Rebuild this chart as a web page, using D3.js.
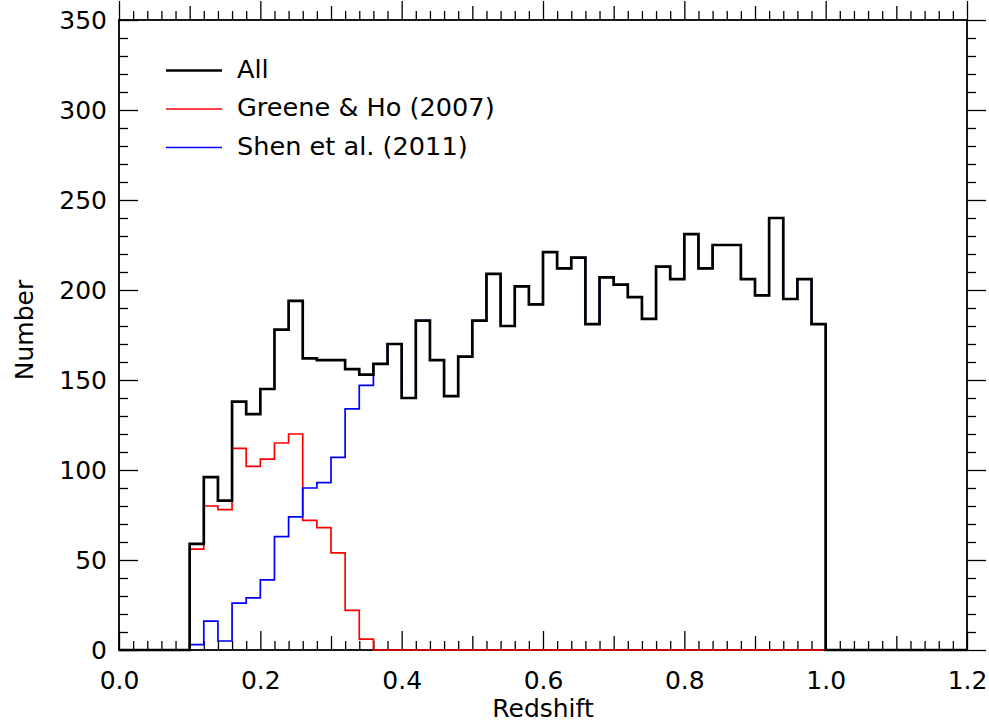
<!DOCTYPE html>
<html>
<head>
<meta charset="utf-8">
<script src="https://cdn.jsdelivr.net/npm/d3@7"></script>
<style>
  html, body { margin: 0; padding: 0; background: #ffffff; }
  svg { display: block; }
  text { font-family: "DejaVu Sans", Verdana, sans-serif; fill: #000; }
</style>
</head>
<body>
<svg id="chart" width="989" height="725"></svg>
<script>
// Redshift bins (lower edges, width 0.02)
const binEdges = [0.10, 0.12, 0.14, 0.16, 0.18, 0.20, 0.22, 0.24, 0.26, 0.28,
                  0.30, 0.32, 0.34, 0.36, 0.38, 0.40, 0.42, 0.44, 0.46, 0.48,
                  0.50, 0.52, 0.54, 0.56, 0.58, 0.60, 0.62, 0.64, 0.66, 0.68,
                  0.70, 0.72, 0.74, 0.76, 0.78, 0.80, 0.82, 0.84, 0.86, 0.88,
                  0.90, 0.92, 0.94, 0.96, 0.98];
const binWidth = 0.02;

// Counts per bin
const countsAll = [59, 96, 83, 138, 131, 145, 178, 194, 162, 161,
                   161, 156, 153, 159, 170, 140, 183, 161, 141, 163,
                   183, 209, 180, 202, 192, 221, 212, 218, 181, 207,
                   203, 196, 184, 213, 206, 231, 212, 225, 225, 206,
                   197, 240, 195, 206, 181];
const countsGreene = [56, 80, 78, 112, 102, 106, 115, 120, 72, 68,
                      54, 22, 6, 0, 0, 0, 0, 0, 0, 0,
                      0, 0, 0, 0, 0, 0, 0, 0, 0, 0,
                      0, 0, 0, 0, 0, 0, 0, 0, 0, 0,
                      0, 0, 0, 0, 0];
const countsShen = [3, 16, 5, 26, 29, 39, 63, 74, 90, 93,
                    107, 134, 147, 159, 170, 140, 183, 161, 141, 163,
                    183, 209, 180, 202, 192, 221, 212, 218, 181, 207,
                    203, 196, 184, 213, 206, 231, 212, 225, 225, 206,
                    197, 240, 195, 206, 181];

const seriesNames = ["All", "Greene & Ho (2007)", "Shen et al. (2011)"];
const seriesColors = ["#000000", "#ff0000", "#0000ff"];

const xMajor = [0.0, 0.2, 0.4, 0.6, 0.8, 1.0, 1.2];
const xMajorLabels = ["0.0", "0.2", "0.4", "0.6", "0.8", "1.0", "1.2"];
const yMajor = [0, 50, 100, 150, 200, 250, 300, 350];
const yMajorLabels = ["0", "50", "100", "150", "200", "250", "300", "350"];

const xDomain = [0, 1.2];
const yDomain = [0, 350];

const svg = d3.select("#chart");
const plotLeft = 119, plotRight = 967, plotTop = 20, plotBottom = 650;

const x = d3.scaleLinear().domain(xDomain).range([plotLeft, plotRight]);
const y = d3.scaleLinear().domain(yDomain).range([plotBottom, plotTop]);

// Frame
svg.append("rect")
  .attr("x", plotLeft).attr("y", plotTop)
  .attr("width", plotRight - plotLeft).attr("height", plotBottom - plotTop)
  .attr("fill", "none").attr("stroke", "#000").attr("stroke-width", 1.8);

// Tick sets
const xMinor = d3.range(0, 61).map(i => i * 0.02).filter(v => Math.abs(v * 10 - Math.round(v * 10)) > 1e-6);
const xMedium = [0.1, 0.3, 0.5, 0.7, 0.9, 1.1];
const yMinor = d3.range(0, 36).map(i => i * 10).filter(v => v % 50 !== 0);

function styleAxis(g) {
  g.select(".domain").remove();
  g.selectAll(".tick line").attr("stroke", "#000").attr("stroke-width", 1.3);
}

// Horizontal axes (ticks point inward)
function xAxisAt(ypos, dir) {
  const mk = dir === "bottom" ? d3.axisBottom : d3.axisTop;
  const sign = dir === "bottom" ? -1 : 1;
  const gMaj = svg.append("g").attr("transform", `translate(0,${ypos})`)
    .call(mk(x).tickValues(xMajor).tickSizeInner(sign * 19).tickSizeOuter(0)
      .tickFormat(dir === "bottom" ? ((d, i) => xMajorLabels[i]) : () => ""));
  styleAxis(gMaj);
  svg.append("g").attr("transform", `translate(0,${ypos})`)
    .call(mk(x).tickValues(xMedium).tickSizeInner(sign * 14).tickSizeOuter(0).tickFormat(() => ""))
    .call(styleAxis);
  svg.append("g").attr("transform", `translate(0,${ypos})`)
    .call(mk(x).tickValues(xMinor).tickSizeInner(sign * 9).tickSizeOuter(0).tickFormat(() => ""))
    .call(styleAxis);
  return gMaj;
}

// Vertical axes (ticks point inward)
function yAxisAt(xpos, dir) {
  const mk = dir === "left" ? d3.axisLeft : d3.axisRight;
  const sign = dir === "left" ? -1 : 1;
  const gMaj = svg.append("g").attr("transform", `translate(${xpos},0)`)
    .call(mk(y).tickValues(yMajor).tickSizeInner(sign * 19).tickSizeOuter(0)
      .tickFormat(dir === "left" ? ((d, i) => yMajorLabels[i]) : () => ""));
  styleAxis(gMaj);
  svg.append("g").attr("transform", `translate(${xpos},0)`)
    .call(mk(y).tickValues(yMinor).tickSizeInner(sign * 9).tickSizeOuter(0).tickFormat(() => ""))
    .call(styleAxis);
  return gMaj;
}

const gx = xAxisAt(plotBottom, "bottom");
gx.selectAll(".tick text")
  .attr("y", 39).attr("dy", null)
  .attr("font-size", 25).attr("font-family", "DejaVu Sans, sans-serif")
  .attr("fill", "#000")
  .attr("text-anchor", "middle");
xAxisAt(plotTop, "top");

const gy = yAxisAt(plotLeft, "left");
gy.selectAll(".tick text")
  .attr("x", -12).attr("dy", "0.34em")
  .attr("font-size", 25).attr("font-family", "DejaVu Sans, sans-serif")
  .attr("fill", "#000")
  .attr("text-anchor", "end");
yAxisAt(plotRight, "right");

// Step outline for a histogram, running along zero outside the binned range
function histPoints(counts) {
  const pts = [[xDomain[0], 0]];
  binEdges.forEach((e, i) => pts.push([e, counts[i]]));
  const last = binEdges[binEdges.length - 1] + binWidth;
  pts.push([last, 0]);
  pts.push([xDomain[1], 0]);
  return pts;
}

const line = d3.line()
  .x(d => x(d[0]))
  .y(d => y(d[1]))
  .curve(d3.curveStepAfter);

const clipId = "plotclip";
svg.append("clipPath").attr("id", clipId)
  .append("rect").attr("x", plotLeft).attr("y", plotTop - 2)
  .attr("width", plotRight - plotLeft).attr("height", plotBottom - plotTop + 4);

// Histograms drawn over the axes: red, then blue, then black on top
const plot = svg.append("g").attr("clip-path", `url(#${clipId})`);

plot.append("path")
  .attr("d", line(histPoints(countsGreene)))
  .attr("fill", "none").attr("stroke", seriesColors[1])
  .attr("stroke-width", 1.7).attr("stroke-linejoin", "miter");
plot.append("path")
  .attr("d", line(histPoints(countsShen)))
  .attr("fill", "none").attr("stroke", seriesColors[2])
  .attr("stroke-width", 1.7).attr("stroke-linejoin", "miter");
plot.append("path")
  .attr("d", line(histPoints(countsAll)))
  .attr("fill", "none").attr("stroke", seriesColors[0])
  .attr("stroke-width", 2.7).attr("stroke-linejoin", "miter");

// Axis titles
svg.append("text")
  .attr("x", (plotLeft + plotRight) / 2).attr("y", 717)
  .attr("text-anchor", "middle").attr("font-size", 25)
  .text("Redshift");
svg.append("text")
  .attr("transform", "translate(33,330) rotate(-90)")
  .attr("text-anchor", "middle").attr("font-size", 25)
  .text("Number");

// Legend
const legendWidths = [2.4, 1.6, 1.6];
const legend = svg.append("g");
seriesNames.forEach((name, i) => {
  const ly = 70.5 + i * 38.5;
  legend.append("line")
    .attr("x1", 166).attr("x2", 222).attr("y1", ly).attr("y2", ly)
    .attr("stroke", seriesColors[i]).attr("stroke-width", legendWidths[i]);
  legend.append("text")
    .attr("x", 237).attr("y", ly + 7)
    .attr("font-size", 25.6)
    .text(name);
});
</script>
</body>
</html>
